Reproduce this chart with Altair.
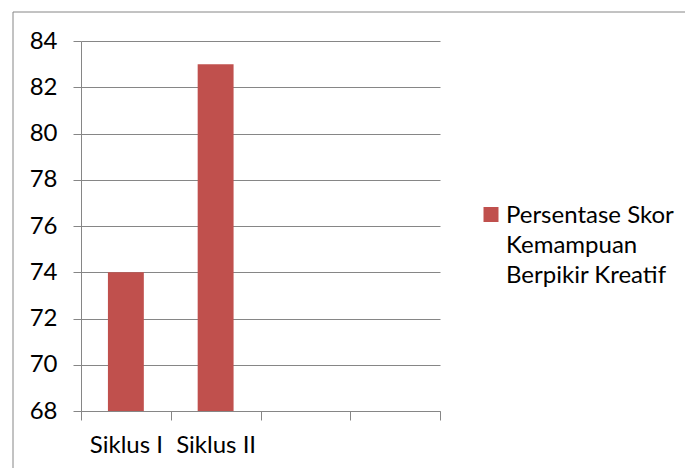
import altair as alt
import pandas as pd

categories = ["Siklus I", "Siklus II", "c3", "c4"]
values = [74, 83, None, None]
legend_lines = ["Persentase Skor", "Kemampuan", "Berpikir Kreatif"]
y_ticks = [68, 70, 72, 74, 76, 78, 80, 82, 84]

df = pd.DataFrame({"cat": categories, "val": values})
one = pd.DataFrame({"k": [0]})

FONT = "Lato"
GRAY = "#868686"
RED = "#C0504D"
FS = 24

bars = alt.Chart(df).mark_bar(color=RED, clip=True, width=alt.RelativeBandSize(0.4)).encode(
    x=alt.X("cat:N", sort=categories, title=None,
            scale=alt.Scale(paddingInner=0, paddingOuter=0),
            axis=alt.Axis(labelExpr="indexof(datum.label,'c')==0 ? '' : datum.label",
                          labelAngle=0, tickBand="extent", tickSize=9, tickColor=GRAY,
                          domainColor=GRAY, labelPadding=13, labelFontSize=FS,
                          labelFont=FONT, labelColor="#000000")),
    y=alt.Y("val:Q", title=None,
            scale=alt.Scale(domain=[68, 84], nice=False, zero=False),
            axis=alt.Axis(values=y_ticks, tickSize=8, tickColor=GRAY, domainColor=GRAY,
                          gridColor=GRAY, labelPadding=16, labelFontSize=FS,
                          labelFont=FONT, labelColor="#000000")),
)

legend_sym = alt.Chart(one).mark_square(color=RED, size=225, opacity=1).encode(
    x=alt.value(410), y=alt.value(173.5))
legend_txt = alt.Chart(one).mark_text(
    text=legend_lines, align="left", baseline="alphabetic", lineHeight=30,
    font=FONT, fontSize=FS, color="#000000").encode(
    x=alt.value(425), y=alt.value(182))

frame_top = alt.Chart(one).mark_rule(color=GRAY, strokeWidth=1).encode(
    x=alt.value(-68), x2=alt.value(700), y=alt.value(-29))
frame_left = alt.Chart(one).mark_rule(color=GRAY, strokeWidth=1).encode(
    x=alt.value(-68), y=alt.value(-29), y2=alt.value(500))

chart = alt.layer(bars, legend_sym, legend_txt, frame_top, frame_left).properties(
    width=359, height=370, autosize="none",
    padding={"left": 73, "top": 33, "right": 245, "bottom": 57},
).configure_view(stroke=None).configure_axis(grid=True).configure_axisX(grid=False)

chart.save("out.html", embed_options={"renderer": "svg", "actions": False})
